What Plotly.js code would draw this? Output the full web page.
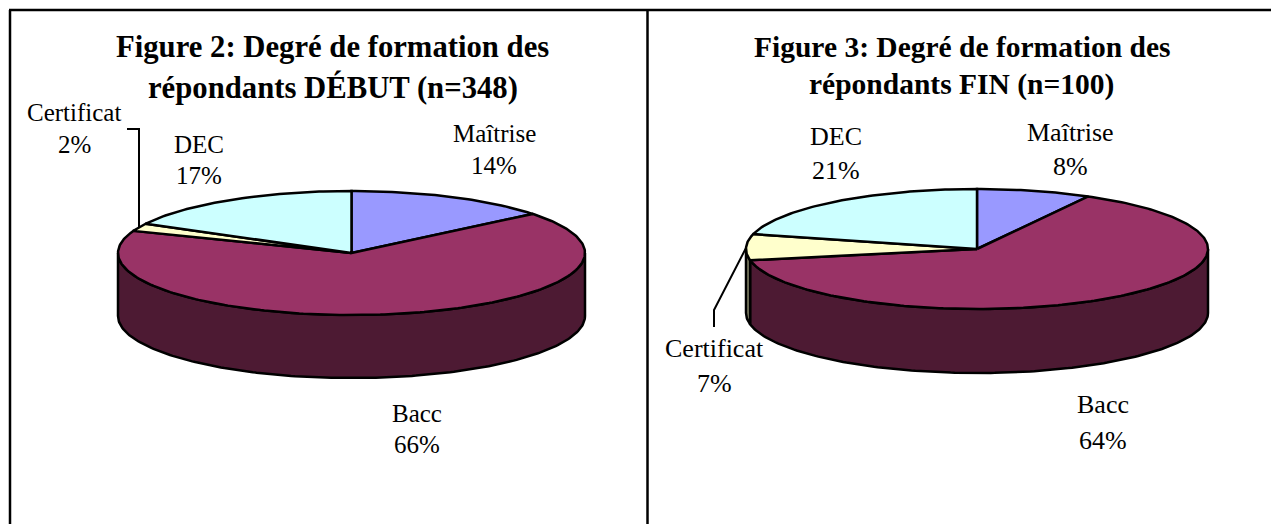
<!DOCTYPE html>
<html><head><meta charset="utf-8">
<script src="https://cdn.plot.ly/plotly-3.0.1.min.js"></script>
<style>html,body{margin:0;padding:0;background:#fff;overflow:hidden}#c{width:1271px;height:524px}</style>
</head><body><div id="c"></div>
<script>
const categories = ["Maîtrise", "Bacc", "Certificat", "DEC"];
const figure2Values = [14, 66, 2, 17];
const figure3Values = [8, 64, 7, 21];
const figure2Title = ["Figure 2: Degré de formation des", "répondants DÉBUT (n=348)"];
const figure3Title = ["Figure 3: Degré de formation des", "répondants FIN (n=100)"];

const topColors = ["#9999FF", "#993366", "#FFFFCC", "#CCFFFF"];
const sideColors = ["#4D4D80", "#4D1A33", "#808066", "#668080"];
const INK = "#000000";
const FONT = "Liberation Serif, Times New Roman, serif";

function pt(p, deg, drop) {
  const r = deg * Math.PI / 180;
  return [p.cx + p.rx * Math.sin(r), p.cy - p.ry * Math.cos(r) + drop];
}
function arc(p, a, b, drop) {
  const out = [], n = Math.max(2, Math.ceil(Math.abs(b - a)));
  for (let i = 0; i <= n; i++) out.push(pt(p, a + (b - a) * i / n, drop));
  return out;
}
function poly(points, fill) {
  return {type: "scatter", mode: "lines", x: points.map(q => q[0]), y: points.map(q => q[1]),
    fill: "toself", fillcolor: fill, line: {color: INK, width: 2.5, shape: "linear"},
    hoverinfo: "skip", showlegend: false};
}
function pieTraces(values, p) {
  const total = values.reduce((s, v) => s + v, 0);
  const sides = [], tops = [];
  let acc = 0;
  values.forEach((v, i) => {
    // the labelled percentages are rounded: Figure 2 sums to 99, so scale to the turn
    const a = acc / total * 360, b = (acc + v) / total * 360;
    acc += v;
    const s = Math.max(a, 90), e = Math.min(b, 270);
    if (e > s) sides.push(poly(arc(p, s, e, 0).concat(arc(p, e, s, p.depth)).concat([pt(p, s, 0)]), sideColors[i]));
    tops.push(poly([[p.cx, p.cy]].concat(arc(p, a, b, 0)).concat([[p.cx, p.cy]]), topColors[i]));
  });
  return sides.concat(tops);
}

const pieA = {cx: 351.5, cy: 253, rx: 233.5, ry: 62, depth: 63};
const pieB = {cx: 977, cy: 249, rx: 231, ry: 60, depth: 64};

const leaderA = [[127, 129], [139, 129], [139, 227]];
const leaderB = [[746, 248], [714, 310], [714, 327]];
function leader(l) {
  return {type: "scatter", mode: "lines", x: l.map(q => q[0]), y: l.map(q => q[1]),
    line: {color: INK, width: 2}, hoverinfo: "skip", showlegend: false};
}

const traces = pieTraces(figure2Values, pieA)
  .concat(pieTraces(figure3Values, pieB))
  .concat([leader(leaderA), leader(leaderB)]);

function note(text, x, y, size, bold) {
  return {xref: "x", yref: "y", x, y, text: bold ? "<b>" + text + "</b>" : text, showarrow: false,
    xanchor: "center", yanchor: "middle", font: {family: FONT, size, color: "#000"}};
}
function sliceLabels(values, pos, size) {
  const out = [];
  categories.forEach((c, i) => {
    out.push(note(c, pos[i][0], pos[i][1], size));
    out.push(note(values[i] + "%", pos[i][0], pos[i][2], size));
  });
  return out;
}
const labelPosA = [[494, 133, 165], [417, 413, 444], [74, 112, 144], [199, 144, 175]];
const labelPosB = [[1070, 132, 166], [1103, 404, 440], [714, 348, 383], [836, 136, 170]];

const annotations = [
  note(figure2Title[0], 332.5, 47, 30.7, true),
  note(figure2Title[1], 332.5, 87, 30.7, true),
  note(figure3Title[0], 961.5, 47, 29.5, true),
  note(figure3Title[1], 961.5, 84, 29.5, true)
].concat(sliceLabels(figure2Values, labelPosA, 25)).concat(sliceLabels(figure3Values, labelPosB, 26));

const frame = [[10, 524, 10, 10], [9, 10, 1271, 10], [647.5, 10, 647.5, 524]];
const shapes = frame.map(f => ({type: "line", xref: "x", yref: "y", x0: f[0], y0: f[1], x1: f[2], y1: f[3],
  line: {color: INK, width: 2.5}}));

Plotly.newPlot("c", traces, {
  width: 1271, height: 524, margin: {l: 0, r: 0, t: 0, b: 0},
  paper_bgcolor: "#fff", plot_bgcolor: "#fff", showlegend: false,
  xaxis: {range: [0, 1271], visible: false, fixedrange: true},
  yaxis: {range: [524, 0], visible: false, fixedrange: true},
  annotations, shapes
}, {displayModeBar: false, staticPlot: true});
</script></body></html>
